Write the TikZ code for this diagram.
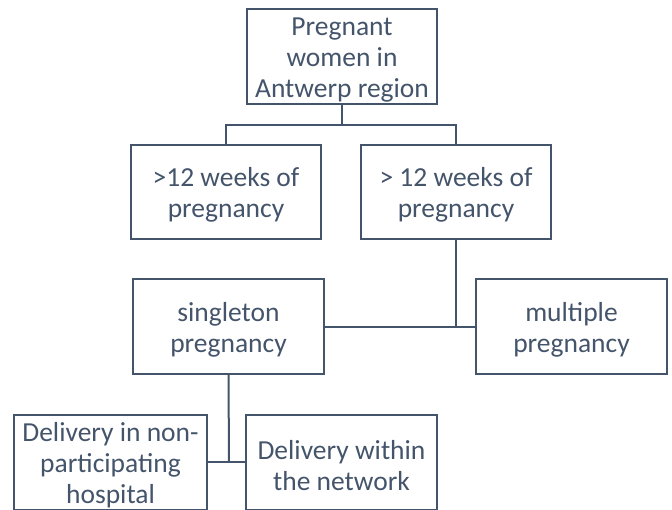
\documentclass[tikz,border=0pt]{standalone}
\usepackage{fontspec}
\setmainfont{Carlito}
\definecolor{slate}{HTML}{44546A}
\newcommand\toplift{\rule{0pt}{25pt}}
\begin{document}
\begin{tikzpicture}[x=1pt,y=-1pt,
  box/.style={draw=slate,line width=2pt,minimum width=190pt,minimum height=95pt,
    align=center,text=slate,inner sep=0pt,font=\fontsize{27.5}{31}\selectfont},
  link/.style={draw=slate,line width=2pt}]
\useasboundingbox (0,0) rectangle (672,509);
\clip (0,0) rectangle (672,509);
\node[box] (a) at (342,56.5) {\toplift Pregnant\\women in\\Antwerp region};
\node[box,minimum height=94pt] (b) at (226,192) {\toplift>12 weeks of\\pregnancy};
\node[box,minimum height=94pt] (c) at (456,192) {\toplift> 12 weeks of\\pregnancy};
\node[box,minimum width=191pt] (d) at (228.5,326.5) {\toplift singleton\\pregnancy};
\node[box,minimum width=191pt] (e) at (571.5,326.5) {\toplift multiple\\pregnancy};
\node[box,minimum width=193pt] (f) at (110.5,462.5) {\toplift Delivery in non-\\participating\\hospital};
\node[box,minimum width=191pt] (g) at (341.5,462.5) {\toplift Delivery within\\the network};
\coordinate (j1) at (342,125);
\coordinate (j3) at (229,462);
\draw[link] (a.south) -- (j1);
\draw[link] (b.north) |- (j1) -| (c.north);
\draw[link] (d.east) -- (e.west);
\draw[link] (c.south) -- (c.south |- d.east);
\draw[link] (f.east |- j3) -- (g.west |- j3);
\draw[link] (d.south) -- (j3);
\end{tikzpicture}
\end{document}
